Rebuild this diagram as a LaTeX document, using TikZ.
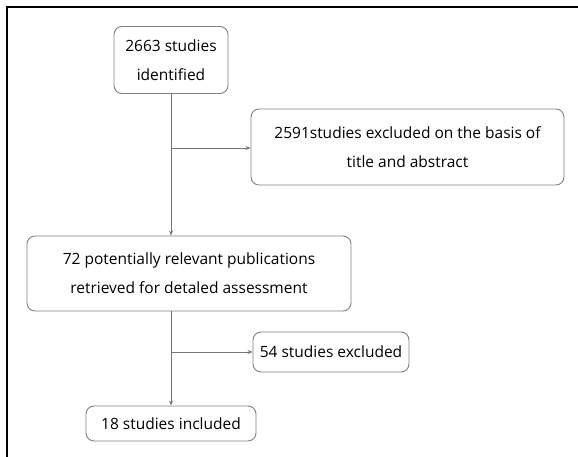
\documentclass[tikz,border=0pt]{standalone}
\usepackage{fontspec}
\setmainfont{Open Sans}
\usetikzlibrary{arrows.meta}
\begin{document}
\begin{tikzpicture}[x=1pt,y=-1pt,
  box/.style={draw=black!50, line width=0.9pt, rounded corners=8pt, align=center,
    inner sep=0pt, font=\fontsize{15.5}{29}\selectfont, text=black},
  conn/.style={draw=black!55, line width=0.9pt},
  arr/.style={conn, -{Stealth[length=5pt,width=4pt]}}]
\useasboundingbox (0,0) rectangle (578,457);
\draw[line width=2pt, black] (578,7) -- (7,7) -- (7,457);
\node[box, minimum width=114pt, minimum height=67pt] (b1) at (171,60) {2663 studies\\identified};
\node[box, minimum width=313pt, minimum height=76pt] (b2) at (407.5,147) {2591studies excluded on the basis of\\title and abstract};
\node[box, minimum width=324pt, minimum height=75pt] (b3) at (189,273.5) {72 potentially relevant publications\\retrieved for detaled assessment};
\node[box, minimum width=156pt, minimum height=40pt] (b4) at (331,352) {54 studies excluded};
\node[box, minimum width=170pt, minimum height=35pt] (b5) at (171,423.5) {18 studies included};
\coordinate (j1) at (171,148);
\coordinate (j2) at (171,352);
\draw[arr] (b1.south) -- (b1.south |- b3.north);
\draw[arr] (j1) -- (j1 -| b2.west);
\draw[arr] (b5.north |- b3.south) -- (b5.north);
\draw[arr] (j2) -- (j2 -| b4.west);
\end{tikzpicture}
\end{document}
